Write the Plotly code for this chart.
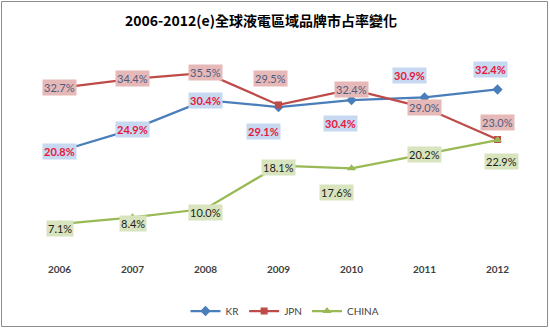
import plotly.graph_objects as go

years = ["2006", "2007", "2008", "2009", "2010", "2011", "2012"]
kr = [20.8, 24.9, 30.4, 29.1, 30.4, 30.9, 32.4]
jpn = [32.7, 34.4, 35.5, 29.5, 32.4, 29.0, 23.0]
china = [7.1, 8.4, 10.0, 18.1, 17.6, 20.2, 22.9]

# label offsets (px) relative to each point
kr_off = [(0, 0), (0, 0), (0, 0), (-15, -24), (-11, -23), (-15, 22), (-7, 20)]
jpn_off = [(0, 0), (0, 0), (0, 0), (-8, 26), (0, 0), (0, 0), (0, 17)]
ch_off = [(0, -4), (0, -6), (0, -4), (0, -2), (-15, -24), (0, 0), (4, -21)]

W, H = 550, 330
ML, MR, MT, MB = 23, 16, 49, 68

fig = go.Figure()
series = [
    ("KR", kr, "#4a7ebb", "diamond", 8),
    ("JPN", jpn, "#be4b48", "square", 7),
    ("CHINA", china, "#98b954", "triangle-up", 8),
]
for name, vals, col, sym, ms in series:
    fig.add_trace(go.Scatter(
        x=years, y=vals, name=name, mode="lines+markers",
        line=dict(color=col, width=2.25),
        marker=dict(symbol=sym, size=ms, color=col),
    ))

lab_styles = [
    (kr, kr_off, "#c6d9f1", "#e8173b", "bold"),
    (jpn, jpn_off, "#e6b9b8", "#4f5b7e", "normal"),
    (china, ch_off, "#d7e4bd", "#1e1e1e", "normal"),
]
for vals, offs, bg, fc, wt in lab_styles:
    for i, (v, (dx, dy)) in enumerate(zip(vals, offs)):
        fig.add_annotation(
            x=i, y=v, xref="x", yref="y", text=f"{v:.1f}%",
            showarrow=False, xshift=dx, yshift=dy,
            bgcolor=bg, borderpad=1,
            font=dict(family="Lato, Liberation Sans, sans-serif", size=11, color=fc, weight=wt),
        )

pw = W - ML - MR
ph = H - MT - MB
def px2paper_x(px):
    return (px - ML) / pw
def px2paper_y(py):
    return (H - MB - py) / ph

fig.add_shape(type="rect", xref="paper", yref="paper",
              x0=px2paper_x(1.5), x1=px2paper_x(547.5),
              y0=px2paper_y(326.5), y1=px2paper_y(1.5),
              line=dict(color="#8c8c8c", width=1), fillcolor="rgba(0,0,0,0)")

fig.update_layout(
    width=W, height=H,
    margin=dict(l=ML, r=MR, t=MT, b=MB),
    paper_bgcolor="white", plot_bgcolor="white",
    title=dict(text="2006-2012(e)全球液電區域品牌市占率變化",
               x=261 / W, xanchor="center", xref="container",
               y=1 - 21 / H, yanchor="middle", yref="container",
               font=dict(family="Noto Sans CJK TC, sans-serif", size=14, color="#000000", weight="bold")),
    xaxis=dict(type="category", range=[-0.5, 6.5], showline=False, showgrid=False,
               zeroline=False, ticks="",
               tickfont=dict(family="Lato, Liberation Sans, sans-serif", size=10, color="#404040", weight="bold")),
    yaxis=dict(range=[0, 40], showgrid=False, zeroline=False, showline=False,
               showticklabels=False, ticks=""),
    legend=dict(orientation="h", x=285 / W, xref="container", xanchor="center",
                y=1 - 311 / H, yref="container", yanchor="middle",
                font=dict(family="Lato, Liberation Sans, sans-serif", size=10, color="#404040"),
                itemwidth=30, tracegroupgap=0),
    showlegend=True,
)

fig.write_html("out.html")
